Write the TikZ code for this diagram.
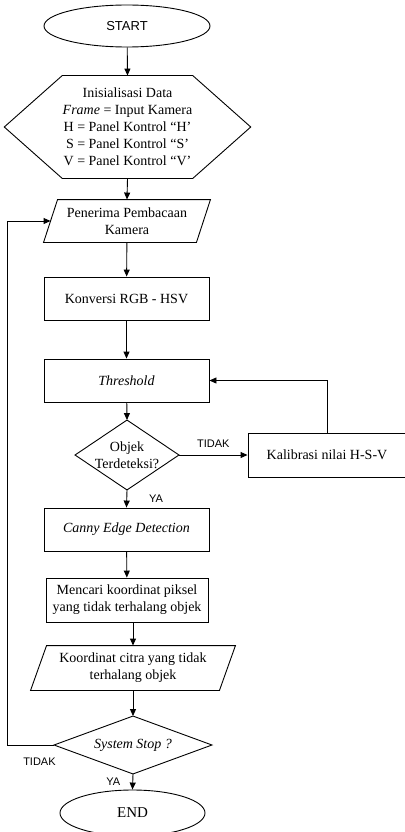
\documentclass[tikz,border=0pt]{standalone}
\usepackage{fontspec}
\setmainfont{Liberation Serif}
\newfontfamily\arialf{Liberation Sans}
\usetikzlibrary{shapes.geometric,arrows.meta,calc}
\begin{document}
\begin{tikzpicture}[x=1pt,y=-1pt,
  line width=0.9pt,
  base/.style={font=\fontsize{14}{17}\selectfont, align=center, inner sep=0pt},
  box/.style={base, draw, rectangle, minimum width=165pt, minimum height=43pt},
  frame/.style={base, rectangle},
  term/.style={draw, ellipse, inner sep=0pt},
  lbl/.style={font=\arialf\fontsize{11}{13}\selectfont, inner sep=0pt},
  arr/.style={-{Triangle[length=7pt,width=6pt]}},
]
\useasboundingbox (0,0) rectangle (404,832);

\node[term, minimum width=166pt, minimum height=42pt, font=\arialf\fontsize{13}{15}\selectfont] (start) at (127,26) {START};

\node[frame, minimum width=119pt, minimum height=102pt] (init) at (127.5,127) {Inisialisasi Data\\\textit{Frame} = Input Kamera\\H = Panel Kontrol “H’\\S = Panel Kontrol “S’\\V = Panel Kontrol “V’};
\draw (init.north west) -- (init.north east) -- ([xshift=58pt]init.east) -- (init.south east) -- (init.south west) -- ([xshift=-58pt]init.west) -- cycle;

\node[frame, minimum width=152pt, minimum height=42pt] (recv) at (127,221) {Penerima Pembacaan\\Kamera};
\draw ([xshift=7pt]recv.north west) -- ([xshift=7pt]recv.north east) -- ([xshift=-7pt]recv.south east) -- ([xshift=-7pt]recv.south west) -- cycle;

\node[box] (konv) at (126.5,298.5) {Konversi RGB - HSV};
\node[box] (thr) at (126.5,380.5) {\textit{Threshold}};

\node[frame, minimum width=103pt, minimum height=69pt] (obj) at (127,455) {Objek\\Terdeteksi?};
\draw (obj.north) -- (obj.east) -- (obj.south) -- (obj.west) -- cycle;

\node[box, minimum width=158pt, minimum height=44pt] (kal) at (327,455) {Kalibrasi nilai H-S-V};

\node[box] (canny) at (126.5,529.5) {\textit{Canny Edge Detection}};
\node[box, minimum width=162pt, minimum height=44pt] (cari) at (127,600) {Mencari koordinat piksel\\yang tidak terhalang objek};

\node[frame, minimum width=188pt, minimum height=44pt] (koord) at (133,668) {Koordinat citra yang tidak\\terhalang objek};
\draw ([xshift=8pt]koord.north west) -- ([xshift=8pt]koord.north east) -- ([xshift=-8pt]koord.south east) -- ([xshift=-8pt]koord.south west) -- cycle;

\node[frame, minimum width=157pt, minimum height=57pt] (sys) at (133,745) {\textit{System Stop ?}};
\draw (sys.north) -- (sys.east) -- (sys.south) -- (sys.west) -- cycle;

\node[term, minimum width=145pt, minimum height=46pt, font=\fontsize{15}{17}\selectfont] (end) at (132.5,813) {END};

\coordinate (lp) at (7,745);

\draw[arr] (start) -- (init.north);
\draw[arr] (init.south) -- (recv.north);
\draw[arr] (recv) -- (konv);
\draw[arr] (konv) -- (thr);
\draw[arr] (thr) -- (obj.north);
\draw[arr] (obj.east) -- node[lbl, midway, above=7pt] {TIDAK} (kal.west);
\draw[arr] (kal.north) |- (thr.east);
\draw[arr] (obj.south) -- node[lbl, midway, right=22pt] {YA} (canny.north);
\draw[arr] (canny) -- (cari);
\draw[arr] (cari.south -| koord.north) -- (koord.north);
\draw[arr] (koord) -- (sys.north);
\draw[arr] (sys.south) -- node[lbl, midway, left=12pt] {YA} (end.north);
\draw[arr] (sys.west) -- node[lbl, pos=0.31, below=12pt] {TIDAK} (lp) |- (recv.west);
\end{tikzpicture}
\end{document}
